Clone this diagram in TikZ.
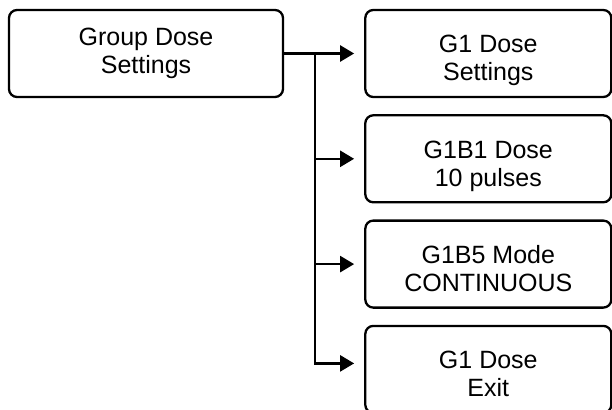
\documentclass[tikz,border=0pt]{standalone}
\usepackage{fontspec}
\setmainfont{Liberation Sans}
\usetikzlibrary{positioning,arrows.meta}

\begin{document}
\begin{tikzpicture}[auto, node distance=16pt, line width=2.3pt,
    menu/.style={rectangle, draw, rounded corners=8pt, align=center, inner sep=0pt,
      minimum height=87pt, font=\fontsize{25pt}{28pt}\selectfont},
    item/.style={menu, minimum width=246pt, text height=60pt, text depth=5pt},
    link/.style={-{Triangle[length=14pt,width=16pt]}, shorten >=10pt}]
    \useasboundingbox (0pt,0pt) rectangle (612pt,-409pt);
    \node[menu, minimum width=274pt] (0) at (146pt,-53.5pt) {Group Dose\\Settings};
    \node[item] (1) [right=80pt of 0] {G1 Dose\\Settings};
    \node[item] (2) [below=of 1] {G1B1 Dose\\10 pulses};
    \node[item] (3) [below=of 2] {G1B5 Mode\\CONTINUOUS};
    \node[item] (4) [below=of 3] {G1 Dose\\Exit};
    \coordinate (split) at ([xshift=31pt]0.east);
    \draw (0.east) -- (split);
    \draw[link] (split) -- (1.west);
    \draw[link] (split) |- (2.west);
    \draw[link] (split) |- (3.west);
    \draw[link] (split) |- ([yshift=6pt]4.west);
\end{tikzpicture}
\end{document}
